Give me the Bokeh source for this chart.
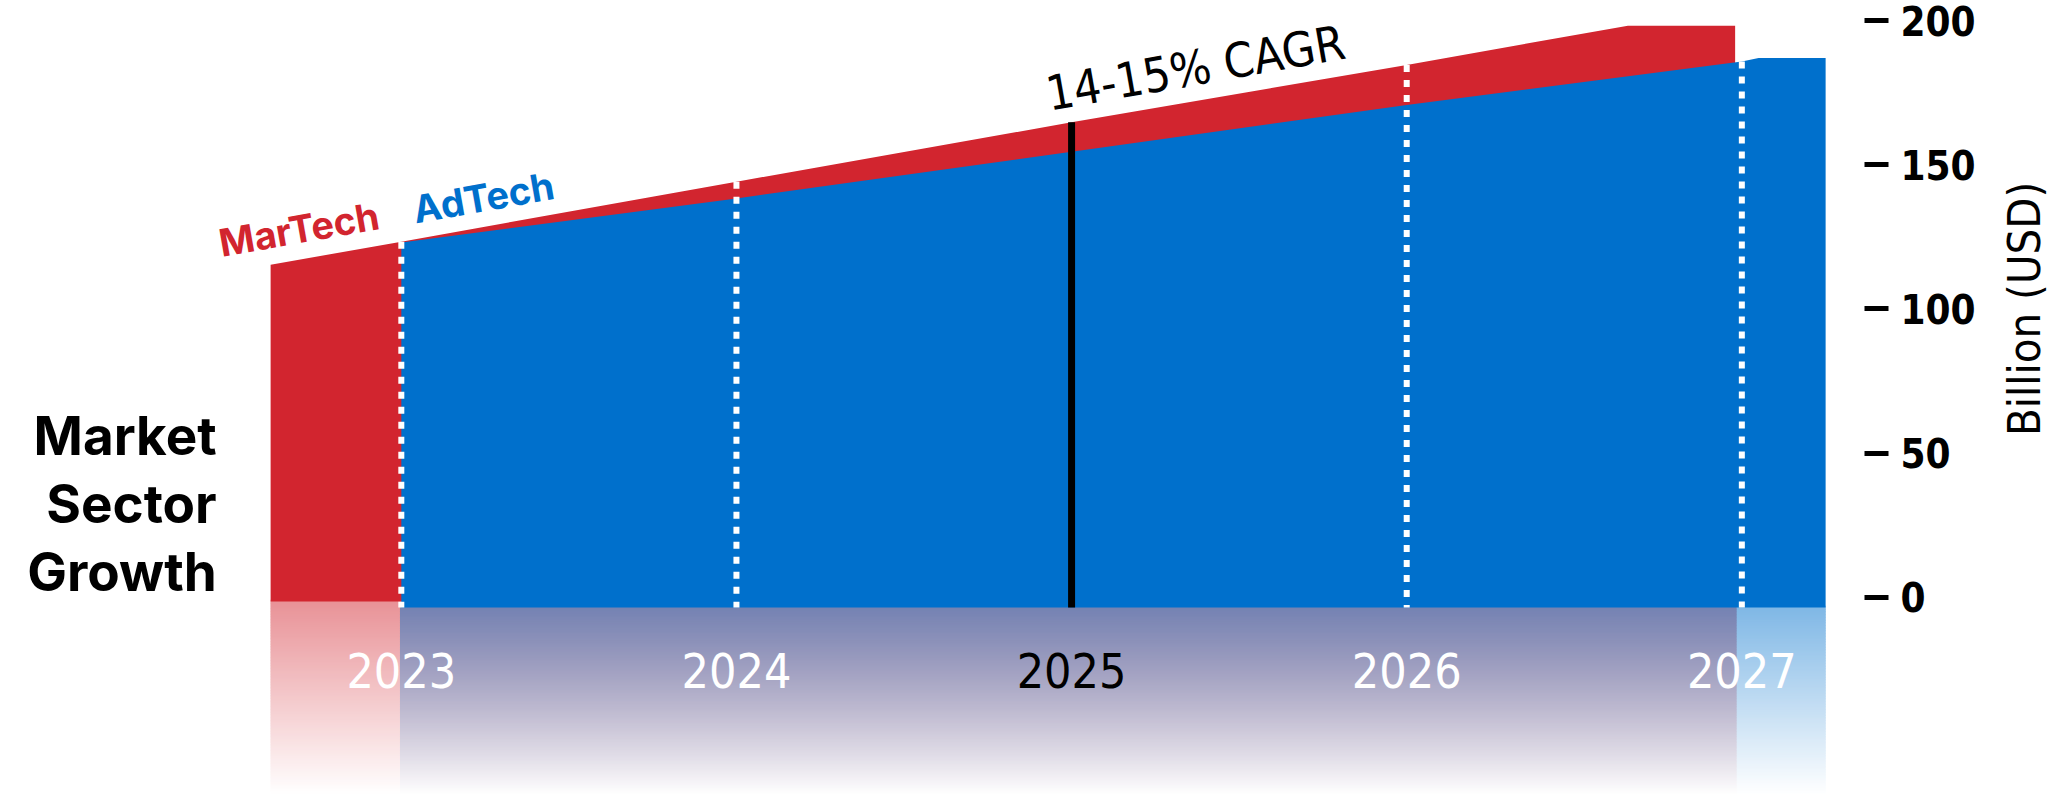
import math
import numpy as np
from bokeh.plotting import figure
from bokeh.layouts import row
from bokeh.models import Range1d, FixedTicker
from bokeh.core.properties import value
from bokeh.embed import file_html
from bokeh.resources import INLINE

# Market size in billion USD (x is the year, fractional years mark the band edges)
martech_years = [2022.61, 2023, 2024, 2025, 2026, 2026.66, 2026.98]
martech_values = [115.3, 123.3, 144.1, 164.7, 184.6, 198.2, 198.2]
adtech_years = [2023, 2024, 2025, 2026, 2027, 2027.05, 2027.25]
adtech_values = [123.0, 138.3, 154.5, 170.7, 185.8, 187.0, 187.0]

year_ticks = [2023, 2024, 2025, 2026, 2027]
year_labels = ["2023", "2024", "2025", "2026", "2027"]
highlight_year = 2025
value_ticks = [0, 50, 100, 150, 200]
value_title = "Billion (USD)"

RED_RGB = (210, 37, 47)
BLUE_RGB = (0, 112, 204)


def hex_of(rgb):
    return "#%02x%02x%02x" % tuple(int(round(c)) for c in rgb)


RED = hex_of(RED_RGB)
BLUE = hex_of(BLUE_RGB)
COND = "DejaVu Sans Condensed"
HEAD = "Inter"

# band baselines; the faded reflection runs from them to the bottom edge
red_base = -1.5
blue_base = -3.6
y_lo, y_hi = -68.42, 206.94
PX_PER_UNIT = 2.8835
TOTAL_W, TOTAL_H = 2054, 794
MAIN_W, AXIS_W = 1990, 126


def styled(f):
    f.grid.visible = False
    f.outline_line_color = None
    f.background_fill_color = "white"
    f.border_fill_color = "white"
    return f


p = styled(figure(width=MAIN_W, height=TOTAL_H, output_backend="svg", toolbar_location=None,
                  x_range=Range1d(2021.804, 2027.366), y_range=Range1d(y_lo, y_hi),
                  x_axis_location=None, y_axis_location="right",
                  min_border_left=0, min_border_top=0, min_border_bottom=0,
                  min_border_right=AXIS_W))


def reflection(x0, x1, top, layers, step=0.55, overlap=0.45):
    """Opaque horizontal strips: white overlaid by each band colour, whose opacity
    falls linearly from 0.5 at that band's base to 0 at the bottom edge."""
    bottom = y_lo - 1.0
    n = max(1, int(math.ceil((top - bottom) / step)))
    edges = np.linspace(top, bottom, n + 1)
    cols, bots = [], []
    for i in range(n):
        ym = min(0.5 * (edges[i] + edges[i + 1]), max(l for _, l in layers))
        c = [255.0, 255.0, 255.0]
        for rgb, layer_top in layers:
            a = 0.5 * max(0.0, min(1.0, (ym - y_lo) / (layer_top - y_lo)))
            c = [b + a * (v - b) for b, v in zip(c, rgb)]
        cols.append(hex_of(c))
        bots.append(max(edges[i + 1] - overlap, bottom))
    p.quad(left=[x0] * n, right=[x1] * n, top=list(edges[:-1]), bottom=bots,
           fill_color=cols, line_color=None)


# reflections first (tucked under the bands): red only, blue only, then both
eps = 0.004
reflection(martech_years[0], adtech_years[0], red_base + 0.6, [(RED_RGB, red_base)])
reflection(martech_years[-1], adtech_years[-1], blue_base + 0.6, [(BLUE_RGB, blue_base)])
reflection(adtech_years[0] - eps, martech_years[-1] + eps, blue_base + 0.6,
           [(RED_RGB, red_base), (BLUE_RGB, blue_base)])

# MarTech band (behind) and AdTech band (front)
p.varea(x=martech_years, y1=[red_base] * len(martech_years), y2=martech_values, fill_color=RED)
p.varea(x=adtech_years, y1=[blue_base] * len(adtech_years), y2=adtech_values, fill_color=BLUE)

# year markers
tops = []
for yr in year_ticks:
    r = np.interp(yr, martech_years, martech_values, left=0, right=0)
    b = np.interp(yr, adtech_years, adtech_values, left=0, right=0)
    tops.append(max(r, b))
dot_x = [y for y in year_ticks if y != highlight_year]
dot_top = [t for y, t in zip(year_ticks, tops) if y != highlight_year]
p.segment(x0=dot_x, y0=dot_top, x1=dot_x, y1=[blue_base] * len(dot_x),
          line_color="white", line_width=6, line_dash="7 8", line_cap="butt")
hi_top = tops[year_ticks.index(highlight_year)]
p.segment(x0=[highlight_year], y0=[hi_top], x1=[highlight_year], y1=[blue_base],
          line_color="black", line_width=7)

# year labels in the reflection strip
p.text(x=year_ticks, y=[-25.5] * len(year_ticks), text=year_labels,
       text_color=["black" if y == highlight_year else "white" for y in year_ticks],
       text_align="center", text_baseline="middle",
       text_font=value(COND), text_font_size="48px")

slope = math.radians(10)
p.text(x=[2024.925], y=[174.5], text=["14-15% CAGR"], angle=slope,
       text_align="left", text_baseline="alphabetic",
       text_font=value(COND), text_font_size="48px", text_color="black")
p.text(x=[2022.457], y=[122.8], text=["MarTech"], angle=slope,
       text_align="left", text_baseline="alphabetic", text_font_style="bold",
       text_font=value(HEAD), text_font_size="38px", text_color=RED)
p.text(x=[2023.036], y=[134.4], text=["AdTech"], angle=slope,
       text_align="left", text_baseline="alphabetic", text_font_style="bold",
       text_font=value(HEAD), text_font_size="38px", text_color=BLUE)

# heading
p.text(x=[2022.449] * 3, y=[55.8, 32.2, 8.6], text=["Market", "Sector", "Growth"],
       text_align="right", text_baseline="alphabetic", text_font_style="bold",
       text_font=value(HEAD), text_font_size="53px", text_color="black")

# value axis
ax = p.yaxis[0]
ax.ticker = FixedTicker(ticks=value_ticks)
ax.axis_line_color = None
ax.major_tick_in = 0
ax.major_tick_out = 24
ax.major_tick_line_width = 5
ax.major_tick_line_color = "black"
ax.minor_tick_line_color = None
ax.major_label_standoff = 12
ax.major_label_text_font = COND
ax.major_label_text_font_style = "bold"
ax.major_label_text_font_size = "40px"
ax.major_label_text_color = "black"

# value-axis title in a narrow panel, reading bottom to top, centred on the 0-200 span
t = styled(figure(width=TOTAL_W - MAIN_W, height=TOTAL_H, output_backend="svg",
                  toolbar_location=None, x_range=Range1d(MAIN_W, TOTAL_W),
                  y_range=Range1d(0, TOTAL_H), x_axis_location=None, y_axis_location=None,
                  min_border=0))
mid_px = (y_hi - 0.5 * (value_ticks[0] + value_ticks[-1])) * PX_PER_UNIT
t.text(x=[2024], y=[TOTAL_H - mid_px], text=[value_title], angle=math.pi / 2,
       text_align="center", text_baseline="middle",
       text_font=value(COND), text_font_size="45px", text_color="black")

layout = row(p, t, spacing=0)
open("out.html", "w").write(file_html(layout, INLINE))
